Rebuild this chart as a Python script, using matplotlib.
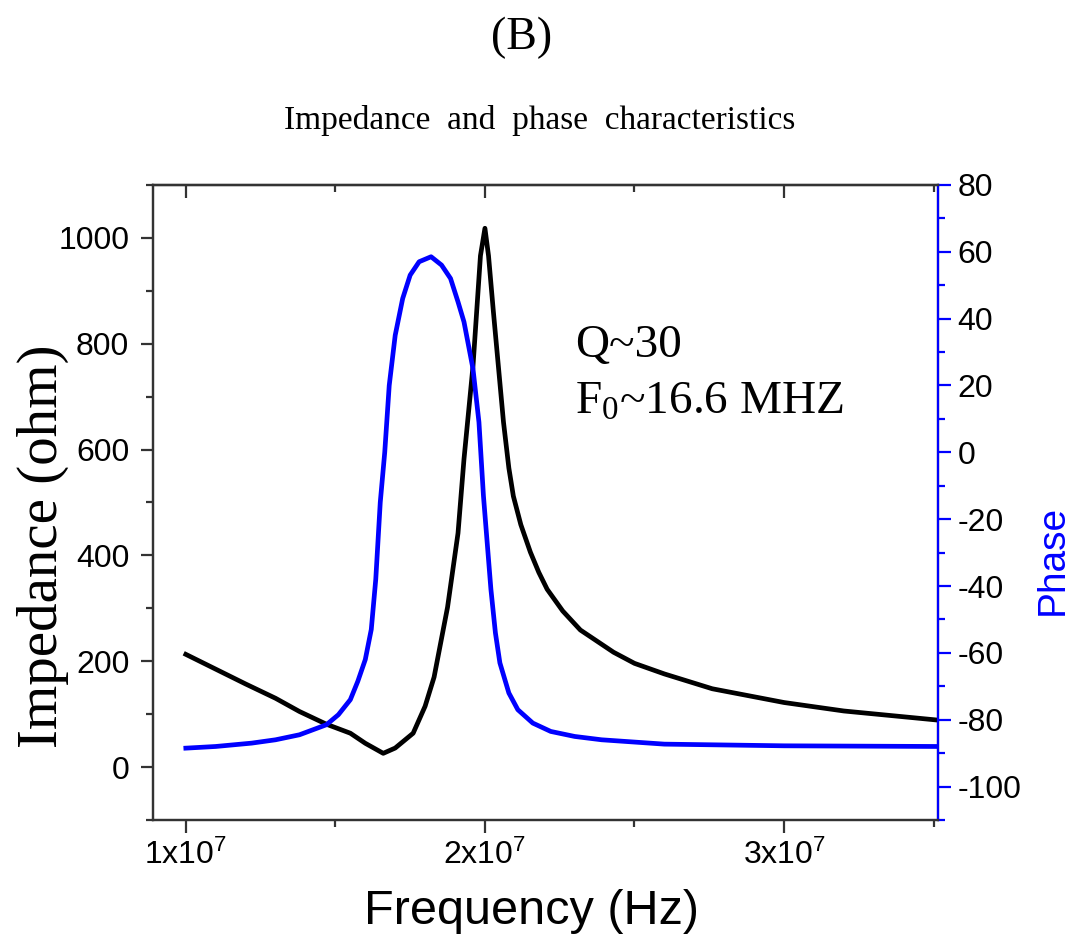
import matplotlib
matplotlib.use("Agg")
import matplotlib.pyplot as plt
from matplotlib.ticker import FixedLocator, MultipleLocator

plt.rcParams['font.family'] = ['Liberation Sans', 'DejaVu Sans']
plt.rcParams['mathtext.default'] = 'regular'
plt.rcParams['axes.unicode_minus'] = False

# impedance curve (Hz, ohm)
freq_z = [1.00e7, 1.10e7, 1.20e7, 1.30e7, 1.38e7, 1.47e7, 1.55e7, 1.60e7, 1.66e7,
          1.70e7, 1.76e7, 1.80e7, 1.83e7, 1.875e7, 1.91e7, 1.93e7, 1.96e7, 1.985e7,
          2.00e7, 2.012e7, 2.028e7, 2.045e7, 2.062e7, 2.08e7, 2.095e7, 2.12e7,
          2.152e7, 2.18e7, 2.208e7, 2.26e7, 2.319e7, 2.43e7, 2.50e7, 2.60e7, 2.76e7,
          3.00e7, 3.20e7, 3.51e7]
impedance = [213, 185, 157, 130, 105, 81, 64, 45, 26,
             36, 64, 115, 170, 302, 442, 582, 757, 966,
             1018, 966, 862, 757, 652, 565, 512, 458,
             406, 368, 336, 295, 259, 217, 196, 176, 148,
             122, 106, 89]

# phase curve (Hz, deg)
freq_p = [1.00e7, 1.10e7, 1.22e7, 1.30e7, 1.38e7, 1.47e7, 1.51e7, 1.55e7, 1.575e7,
          1.60e7, 1.62e7, 1.635e7, 1.65e7, 1.665e7, 1.68e7, 1.70e7, 1.725e7, 1.75e7,
          1.78e7, 1.82e7, 1.855e7, 1.885e7, 1.91e7, 1.93e7, 1.96e7, 1.98e7, 1.995e7,
          2.02e7, 2.035e7, 2.05e7, 2.08e7, 2.11e7, 2.16e7, 2.22e7, 2.30e7, 2.39e7,
          2.60e7, 3.00e7, 3.51e7]
phase = [-88.5, -88, -87, -86, -84.5, -81.5, -78.5, -74, -68.5,
         -62, -53, -38, -15, 0, 20, 35, 46, 53,
         57, 58.5, 56, 52, 45, 39, 25, 9, -13,
         -41, -54, -63, -72, -77, -81, -83.5, -85, -86,
         -87.3, -87.8, -88]

x_ticks = [1e7, 2e7, 3e7]
x_tick_labels = [r'1x10$^7$', r'2x10$^7$', r'3x10$^7$']
x_minor = [1.5e7, 2.5e7, 3.5e7]

fig = plt.figure(figsize=(10.77, 9.48), dpi=100)
ax = fig.add_axes([0.142, 0.135, 0.729, 0.670])
ax2 = ax.twinx()

ax.plot(freq_z, impedance, color='black', lw=3.4, zorder=3)
ax2.plot(freq_p, phase, color='#0000ff', lw=3.4)

ax.set_xlim(0.89e7, 3.515e7)
ax.set_ylim(-100, 1100)
ax2.set_ylim(-110, 80)

ax.xaxis.set_major_locator(FixedLocator(x_ticks))
ax.set_xticklabels(x_tick_labels)
ax.xaxis.set_minor_locator(FixedLocator(x_minor))
ax.yaxis.set_major_locator(MultipleLocator(200))
ax.yaxis.set_minor_locator(MultipleLocator(100))
ax2.yaxis.set_major_locator(MultipleLocator(20))
ax2.yaxis.set_minor_locator(MultipleLocator(10))

for a in (ax, ax2):
    for s in a.spines.values():
        s.set_linewidth(1.6)
        s.set_color('#333333')
ax2.spines['right'].set_color('#0000ff')

ax.tick_params(axis='both', which='major', length=9, width=1.6, labelsize=23, color='#333333')
ax.tick_params(axis='both', which='minor', length=5, width=1.6, color='#333333')
ax.tick_params(axis='y', pad=8)
ax.tick_params(axis='x', pad=5)
ax2.tick_params(axis='y', which='major', length=9, width=1.6, labelsize=23, color='#0000ff', pad=5)
ax2.tick_params(axis='y', which='minor', length=5, width=1.6, color='#0000ff')

top = ax.secondary_xaxis('top')
top.xaxis.set_major_locator(FixedLocator(x_ticks))
top.xaxis.set_minor_locator(FixedLocator(x_minor))
top.tick_params(which='major', direction='in', length=9, width=1.6, labeltop=False, color='#333333')
top.tick_params(which='minor', direction='in', length=5, width=1.6, color='#333333')
top.spines['top'].set_linewidth(1.6)
top.spines['top'].set_color('#333333')

ax.text(0.538, 0.729, 'Q~30', transform=ax.transAxes, fontsize=34,
        family=['Liberation Serif'], va='baseline')
ax.text(0.538, 0.639, 'F$_0$~16.6 MHZ', transform=ax.transAxes, fontsize=34,
        family=['Liberation Serif'], va='baseline')

fig.text(522 / 1077, 1 - 38 / 948, '(B)', fontsize=33, family=['Liberation Serif'],
         ha='center', va='center')
fig.text(540 / 1077, 1 - 121 / 948, 'Impedance  and  phase  characteristics', fontsize=24,
         family=['Liberation Serif'], ha='center', va='center')
fig.text(43 / 1077, 1 - 546 / 948, 'Impedance (ohm)', fontsize=41, family=['Liberation Serif'],
         rotation=90, ha='center', va='center',
         bbox=dict(facecolor='white', edgecolor='none', pad=0))
fig.text(1053 / 1077, 1 - 560 / 948, 'Phase', fontsize=28, color='#0000ff',
         rotation=90, ha='center', va='center')
fig.text(532 / 1077, 1 - 912 / 948, 'Frequency (Hz)', fontsize=35, ha='center', va='center')

fig.savefig('out.png', dpi=100)
